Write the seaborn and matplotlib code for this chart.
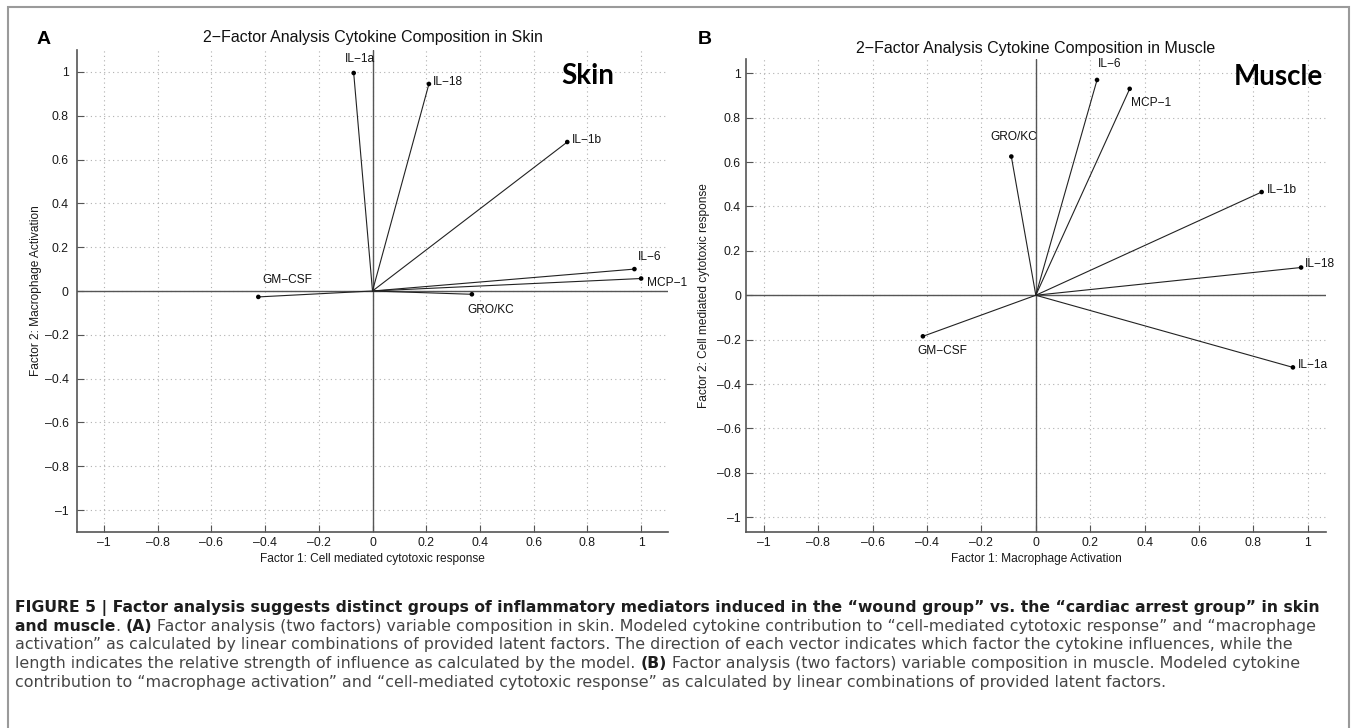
import numpy as np
import pandas as pd
import matplotlib
matplotlib.use("Agg")
import matplotlib.pyplot as plt
import seaborn as sns
from matplotlib.patches import Rectangle

# ---------------- data ----------------
skin_cytokines = ["IL\u22121a", "IL\u221218", "IL\u22121b", "IL\u22126", "MCP\u22121", "GRO/KC", "GM\u2212CSF"]
skin_factor1 = [-0.07, 0.21, 0.725, 0.975, 1.0, 0.37, -0.425]
skin_factor2 = [0.995, 0.945, 0.68, 0.10, 0.057, -0.015, -0.027]

muscle_cytokines = ["IL\u22126", "MCP\u22121", "GRO/KC", "IL\u22121b", "IL\u221218", "GM\u2212CSF", "IL\u22121a"]
muscle_factor1 = [0.225, 0.345, -0.09, 0.83, 0.975, -0.415, 0.945]
muscle_factor2 = [0.97, 0.93, 0.625, 0.465, 0.125, -0.185, -0.325]

tick_values = [-1, -0.8, -0.6, -0.4, -0.2, 0, 0.2, 0.4, 0.6, 0.8, 1]
tick_labels = [("%g" % v).replace("-", "\u2013") for v in tick_values]

titles = ["2\u2212Factor Analysis Cytokine Composition in Skin",
          "2\u2212Factor Analysis Cytokine Composition in Muscle"]
xlabels = ["Factor 1: Cell mediated cytotoxic response", "Factor 1: Macrophage Activation"]
ylabels = ["Factor 2: Macrophage Activation", "Factor 2: Cell mediated cytotoxic response"]
tissue_tags = ["Skin", "Muscle"]
panel_letters = ["A", "B"]

caption_lines = [
    [("FIGURE 5 | Factor analysis suggests distinct groups of inflammatory mediators induced in the \u201cwound group\u201d vs. the \u201ccardiac arrest group\u201d in skin", True)],
    [("and muscle", True), (". ", False), ("(A)", True),
     (" Factor analysis (two factors) variable composition in skin. Modeled cytokine contribution to \u201ccell-mediated cytotoxic response\u201d and \u201cmacrophage", False)],
    [("activation\u201d as calculated by linear combinations of provided latent factors. The direction of each vector indicates which factor the cytokine influences, while the", False)],
    [("length indicates the relative strength of influence as calculated by the model. ", False), ("(B)", True),
     (" Factor analysis (two factors) variable composition in muscle. Modeled cytokine", False)],
    [("contribution to \u201cmacrophage activation\u201d and \u201ccell-mediated cytotoxic response\u201d as calculated by linear combinations of provided latent factors.", False)],
]

# ---------------- style ----------------
sns.set_theme(style="white")
plt.rcParams["font.family"] = ["Liberation Sans", "DejaVu Sans"]
plt.rcParams["axes.unicode_minus"] = True

W, H = 1356, 728
fig = plt.figure(figsize=(W / 100, H / 100), dpi=100)
fig.patch.set_facecolor("white")

def px_rect(l, t, r, b):
    return [l / W, 1 - b / H, (r - l) / W, (b - t) / H]

# label offsets in pixels (dx to left edge, dy down to center)
skin_offsets = {"IL\u22121a": (-9, -14), "IL\u221218": (4, -2), "IL\u22121b": (5, -2),
                "IL\u22126": (3, -12), "MCP\u22121": (6, 4), "GRO/KC": (-5, 16),
                "GM\u2212CSF": (4, -17)}
muscle_offsets = {"IL\u22126": (1, -16), "MCP\u22121": (1, 14), "GRO/KC": (-21, -20),
                  "IL\u22121b": (5, -2), "IL\u221218": (4, -3), "GM\u2212CSF": (-6, 15),
                  "IL\u22121a": (5, -2)}

panels = [
    dict(names=skin_cytokines, f1=skin_factor1, f2=skin_factor2, offsets=skin_offsets,
         rect=px_rect(77, 50, 668, 532), xlim=(-1.1, 1.1), ylim=(-1.1, 1.1),
         ypad=6.0, ylabelpad=2.0, tag_xy=(588, 76), letter_xy=(44, 40), title_pad=5.5),
    dict(names=muscle_cytokines, f1=muscle_factor1, f2=muscle_factor2, offsets=muscle_offsets,
         rect=px_rect(745.5, 59.3, 1326.4, 532.3), xlim=(-1.067, 1.068), ylim=(-1.068, 1.063),
         ypad=3.3, ylabelpad=5.0, tag_xy=(1278, 77), letter_xy=(705, 40), title_pad=4.5),
]

axis_col = "#555555"
for i, p in enumerate(panels):
    ax = fig.add_axes(p["rect"])
    ax.set_facecolor("white")
    # long-format table: each vector is origin -> loading
    rows = []
    for n, a, b in zip(p["names"], p["f1"], p["f2"]):
        rows.append(dict(cytokine=n, f1=0.0, f2=0.0, end=False))
        rows.append(dict(cytokine=n, f1=a, f2=b, end=True))
    df = pd.DataFrame(rows)

    ax.set_xlim(*p["xlim"])
    ax.set_ylim(*p["ylim"])
    ax.set_xticks(tick_values)
    ax.set_yticks(tick_values)
    ax.set_xticklabels(tick_labels)
    ax.set_yticklabels(tick_labels)
    ax.grid(True, linestyle=(0, (1, 3)), color="#b0b0b0", linewidth=0.8)
    ax.set_axisbelow(True)

    ax.axhline(0, color=axis_col, lw=1.0, zorder=1)
    ax.axvline(0, color=axis_col, lw=1.0, zorder=1)

    sns.lineplot(data=df, x="f1", y="f2", units="cytokine", estimator=None, sort=False,
                 color="#222222", lw=0.8, ax=ax, zorder=2, legend=False)
    sns.scatterplot(data=df[df["end"]], x="f1", y="f2", color="black", s=11,
                    edgecolor="none", ax=ax, zorder=3, legend=False)

    for n, a, b in zip(p["names"], p["f1"], p["f2"]):
        dx, dy = p["offsets"][n]
        ax.annotate(n, (a, b), xytext=(dx * 0.72, -dy * 0.72), textcoords="offset points",
                    ha="left", va="center", fontsize=8.6, color="#111111",
                    annotation_clip=False)

    for s in ["top", "right"]:
        ax.spines[s].set_visible(False)
    for s in ["left", "bottom"]:
        ax.spines[s].set_color(axis_col)
        ax.spines[s].set_linewidth(1.2)
    ax.tick_params(axis="both", which="both", direction="in", length=5, width=0.8,
                   color=axis_col, labelsize=8.8, labelcolor="#1a1a1a")
    ax.tick_params(axis="x", pad=3.5, bottom=True)
    ax.tick_params(axis="y", pad=p["ypad"], left=True)

    ax.set_xlabel(xlabels[i], fontsize=8.6, color="#1a1a1a", labelpad=3)
    ax.set_ylabel(ylabels[i], fontsize=8.6, color="#1a1a1a", labelpad=p["ylabelpad"])
    ax.set_title(titles[i], fontsize=11.5, color="#111111", pad=p["title_pad"])

    tx, ty = p["tag_xy"]
    fig.text(tx / W, 1 - ty / H, tissue_tags[i], fontsize=20, fontweight="bold",
             family=["Lato", "DejaVu Sans"], ha="center", va="center", color="black")
    lx, ly = p["letter_xy"]
    fig.text(lx / W, 1 - ly / H, panel_letters[i], fontsize=14, fontweight="bold",
             ha="center", va="center", color="black")

# outer frame
fig.patches.append(Rectangle((8 / W, -0.02), (1349 - 8) / W, 1.02 - 7 / H,
                             transform=fig.transFigure, fill=False,
                             edgecolor="#9a9a9a", lw=1.5))

# ---------------- caption ----------------
renderer = fig.canvas.get_renderer()
cap_family = ["DejaVu Sans"]

def text_w(s, bold, size):
    t = fig.text(0, 0, s, fontsize=size, fontweight="bold" if bold else "normal",
                 family=cap_family)
    w = t.get_window_extent(renderer).width
    t.remove()
    return w

base = 10.0
# bold size fitted to line 1 (15 -> 1324 px), regular size fitted to line 3 (15 -> 1296 px)
cap_size = {
    True: base * (1324 - 15) / text_w(caption_lines[0][0][0], True, base),
    False: base * (1296 - 15) / text_w(caption_lines[2][0][0], False, base),
}

space_w = {b: text_w("x x", b, cap_size[b]) - text_w("xx", b, cap_size[b]) for b in (True, False)}
baselines = [612, 631, 649.5, 668, 687]
for line, yb in zip(caption_lines, baselines):
    x = 15.0
    for s, bold in line:
        lead = len(s) - len(s.lstrip(" "))
        trail = len(s) - len(s.rstrip(" "))
        core = s.strip(" ")
        x += lead * space_w[bold]
        t = fig.text(x / W, 1 - yb / H, core, fontsize=cap_size[bold], family=cap_family,
                     fontweight="bold" if bold else "normal",
                     color="#1e1e1e" if bold else "#454545", ha="left", va="baseline")
        x += t.get_window_extent(renderer).width
        x += trail * space_w[bold]

fig.savefig("out.png", dpi=100, facecolor="white")
